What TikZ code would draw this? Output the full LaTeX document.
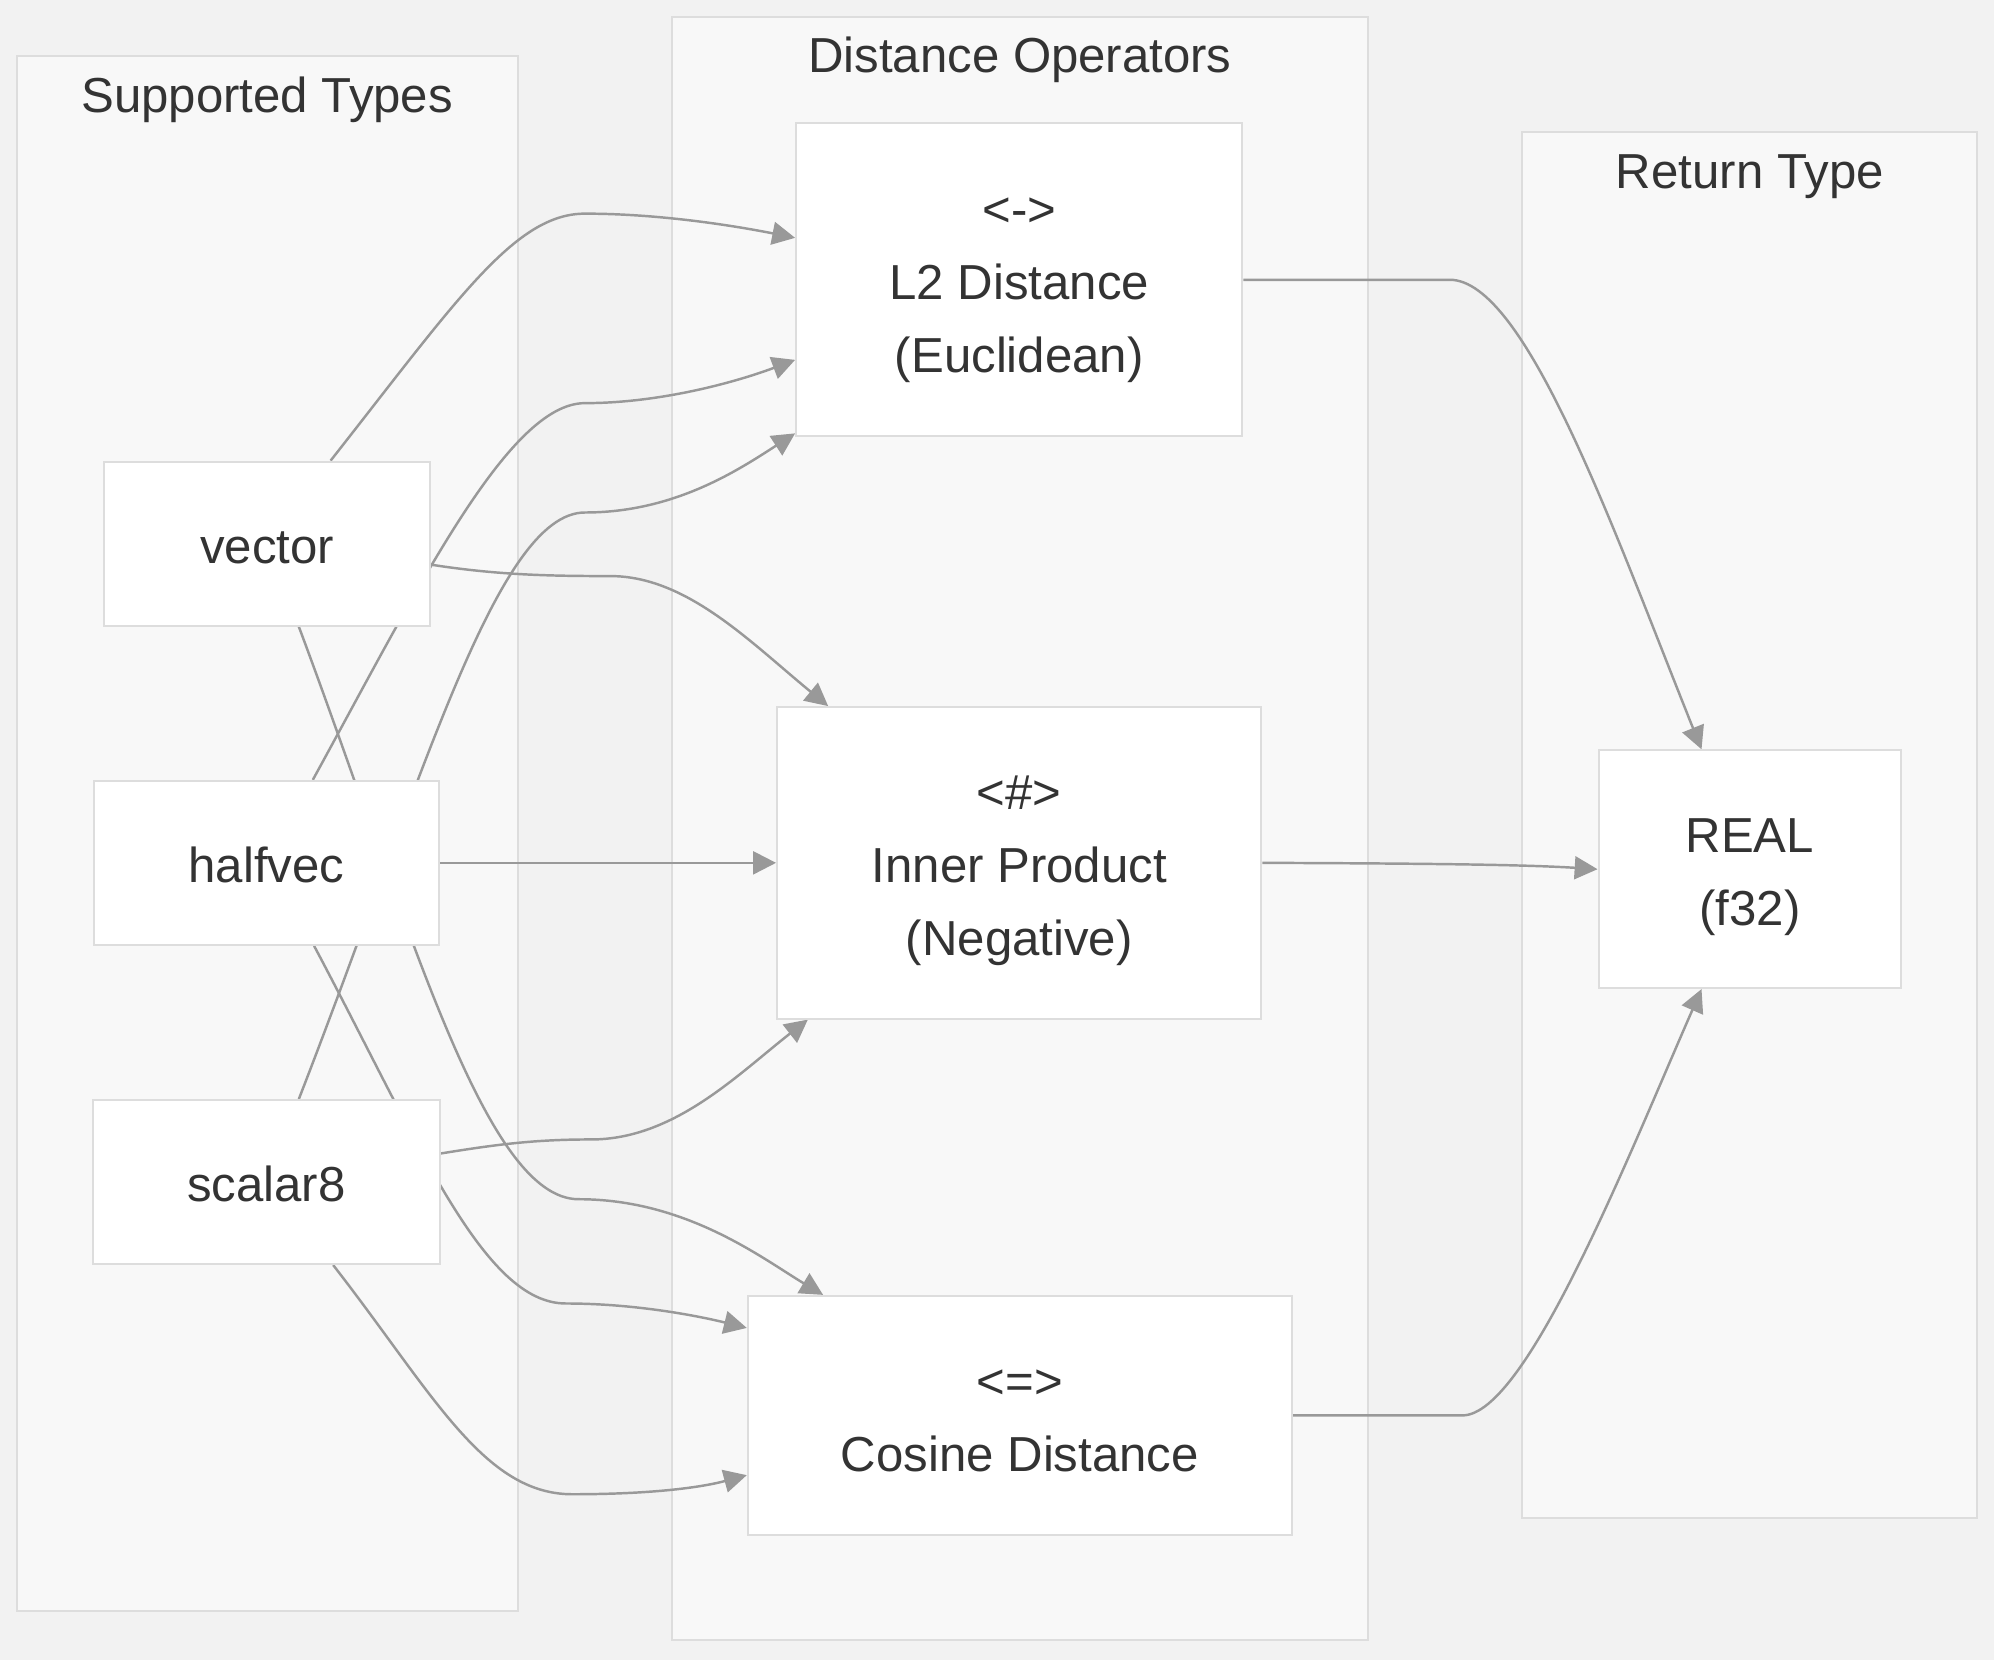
\documentclass[tikz,border=0pt]{standalone}
\usepackage{fontspec}
\setmainfont{Liberation Sans}
\usetikzlibrary{arrows.meta,positioning}
\definecolor{pagebg}{HTML}{F2F2F2}
\definecolor{clfill}{HTML}{F8F8F8}
\definecolor{clline}{HTML}{DDDDDD}
\definecolor{edgec}{HTML}{999999}
\definecolor{txt}{HTML}{333333}
\pgfdeclarelayer{clusters}
\pgfdeclarelayer{edges}
\pgfsetlayers{clusters,edges,main}
\newcommand{\boxtext}[1]{\raisebox{-2.2pt}[\height][\depth]{\begin{tabular}{@{}c@{}}#1\end{tabular}}}
\tikzset{
  cluster/.style={rectangle, draw=clline, fill=clfill, line width=0.9pt, inner sep=0pt},
  ctitle/.style={text=txt, font=\fontsize{22}{26}\selectfont, inner sep=0pt, anchor=base},
  box/.style={rectangle, draw=clline, fill=white, line width=0.9pt, text=txt, font=\fontsize{22}{32.7}\selectfont, inner sep=0pt},
  line/.style={draw=edgec, line width=1.1pt, -{Triangle[length=0.36cm,width=0.36cm]}},
}

\begin{document}
\begin{tikzpicture}[x=0.02cm,y=-0.02cm]
  \useasboundingbox (0,0) rectangle (1568,1305);

  \begin{pgfonlayer}{clusters}
    \fill[pagebg] (0,0) rectangle (1568,1305);
    \node[cluster, minimum width=7.88cm, minimum height=24.46cm] (types) at (210,655.5) {};
    \node[cluster, minimum width=10.96cm, minimum height=25.54cm] (ops) at (802,651.5) {};
    \node[cluster, minimum width=7.16cm, minimum height=21.8cm] (ret) at (1376,649) {};
    \node[ctitle] (typesT) at ([yshift=-0.9cm]types.north) {Supported Types};
    \node[ctitle] (opsT) at ([yshift=-0.9cm]ops.north) {Distance Operators};
    \node[ctitle] (retT) at ([yshift=-0.9cm]ret.north) {Return Type};
  \end{pgfonlayer}

  % input types
  \node[box, minimum width=5.12cm, minimum height=2.58cm] (vector) at (210,427.5) {\boxtext{vector}};
  \node[box, minimum width=5.42cm, minimum height=2.58cm] (halfvec) at (209.5,678.5) {\boxtext{halfvec}};
  \node[box, minimum width=5.46cm, minimum height=2.58cm] (scalar8) at (209.5,929.5) {\boxtext{scalar8}};

  % operators
  \node[box, minimum width=7.02cm, minimum height=4.92cm] (l2) at (801.5,220) {\boxtext{<->\\L2 Distance\\(Euclidean)}};
  \node[box, minimum width=7.62cm, minimum height=4.9cm] (inner) at (801.5,678.5) {\boxtext{<\#>\\Inner Product\\(Negative)}};
  \node[box, minimum width=8.56cm, minimum height=3.76cm] (cosine) at (802,1113) {\boxtext{<=>\\Cosine Distance}};

  % result
  \node[box, minimum width=4.76cm, minimum height=3.74cm] (real) at (1376,683.5) {\boxtext{REAL\\(f32)}};

  \begin{pgfonlayer}{edges}
  \begin{scope}[every path/.style=line]
    \path ([xshift=1cm]vector.north) .. controls (360,235) and (405,168) .. (460,168)
          .. controls (520,168) and (580,178) .. ([yshift=0.66cm]l2.west);
    \path ([yshift=-0.33cm]vector.east) .. controls (390,452) and (430,453) .. (480,453)
          .. controls (540,453) and (590,505) .. ([xshift=0.82cm]inner.north west);
    \path ([xshift=0.5cm]vector.south) .. controls (320,720) and (380,943) .. (455,943)
          .. controls (540,943) and (600,990) .. ([xshift=1.2cm]cosine.north west);

    \path ([xshift=0.73cm]halfvec.north) .. controls (330,460) and (400,317) .. (460,317)
          .. controls (520,317) and (580,300) .. ([yshift=-1.26cm]l2.west);
    \path (halfvec) -- (inner);
    \path ([xshift=0.75cm]halfvec.south) .. controls (330,900) and (380,1025) .. (445,1025)
          .. controls (500,1025) and (550,1035) .. ([yshift=-0.52cm]cosine.north west);

    \path ([xshift=0.51cm]scalar8.north) .. controls (330,620) and (390,403) .. (460,403)
          .. controls (530,403) and (580,370) .. ([yshift=0.06cm]l2.south west);
    \path ([yshift=0.45cm]scalar8.east) .. controls (390,900) and (420,896) .. (465,896)
          .. controls (530,896) and (580,845) .. ([xshift=0.5cm]inner.south west);
    \path ([xshift=1.05cm]scalar8.south) .. controls (340,1095) and (380,1175) .. (450,1175)
          .. controls (510,1175) and (550,1170) .. ([yshift=-0.94cm]cosine.west);

    \path (l2.east) .. controls (1060,220) and (1100,220) .. (1140,220)
          .. controls (1200,220) and (1270,420) .. ([xshift=-0.76cm]real.north);
    \path (inner.east) .. controls (1130,679) and (1200,680) .. (real.west);
    \path (cosine.east) .. controls (1080,1113) and (1110,1113) .. (1150,1113)
          .. controls (1200,1113) and (1280,910) .. ([xshift=-0.76cm]real.south);
  \end{scope}
  \end{pgfonlayer}
\end{tikzpicture}
\end{document}
